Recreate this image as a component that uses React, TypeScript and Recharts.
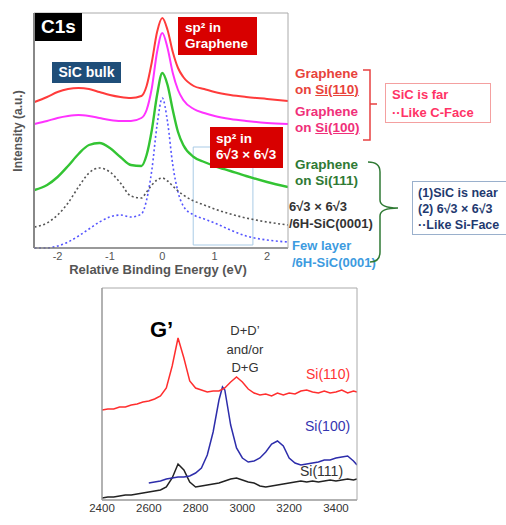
import React from 'react';
import { LineChart, Line, XAxis, YAxis, ReferenceArea } from 'recharts';

/* ---------- C1s XPS spectra (top panel) ---------- */
const energy = [-2.44, -2.2, -2.0, -1.8, -1.6, -1.4, -1.2, -1.0, -0.8, -0.6, -0.4, -0.3, -0.2, -0.1, 0, 0.1, 0.2, 0.3, 0.4, 0.6, 0.8, 1.0, 1.3, 1.6, 2.0, 2.4];
const onSi110 = [146, 151, 156, 159, 160, 159, 156, 153, 151, 150, 152, 162, 186, 216, 230, 218, 196, 180, 171, 162, 159, 156, 153, 151, 149, 147];
const onSi100 = [124, 127, 130, 132, 133, 132, 130, 128, 127, 127, 130, 138, 160, 196, 215, 200, 175, 158, 148, 139, 135, 132, 129, 127, 125, 124];
const onSi111 = [58, 63, 71, 82, 94, 103, 105, 100, 91, 83, 82, 93, 118, 153, 175, 163, 138, 116, 103, 91, 86, 82, 77, 72, 66, 61];
const sic6r3 = [21, 25, 33, 45, 61, 75, 80, 76, 65, 52, 50, 56, 63, 68, 70, 67, 62, 57, 53, 47, 43, 39, 34, 30, 26, 23];
const fewLayer = [0, 0, 2, 6, 12, 19, 26, 31, 33, 31, 34, 48, 78, 123, 150, 126, 83, 56, 42, 33, 29, 25, 18, 12, 8, 6];
const energyTicks = [-2, -1, 0, 1, 2];
const energyMinor = [-2, -1.5, -1, -0.5, 0, 0.5, 1, 1.5, 2];

/* ---------- Raman spectra (bottom panel) ---------- */
const shift = [2400, 2425, 2450, 2475, 2500, 2525, 2550, 2575, 2600, 2625, 2650, 2675, 2700, 2725, 2750, 2775, 2800, 2825, 2850, 2875, 2900, 2925, 2950, 2975, 3000, 3025, 3050, 3075, 3100, 3125, 3150, 3175, 3200, 3225, 3250, 3275, 3300, 3325, 3350, 3375, 3400, 3425, 3450, 3475, 3490];
const ramanSi110 = [90, 91, 91, 93, 93, 95, 96, 98, 99, 101, 104, 112, 134, 162, 142, 119, 112, 110, 108, 109, 109, 112, 118, 123, 118, 111, 107, 105, 106, 104, 107, 105, 107, 106, 109, 110, 108, 107, 109, 107, 108, 110, 107, 109, 108];
const ramanSi111 = [2, 3, 3, 4, 5, 5, 6, 7, 8, 9, 10, 13, 22, 36, 30, 18, 13, 14, 15, 16, 17, 19, 21, 22, 20, 18, 17, 14, 13, 14, 15, 16, 17, 18, 19, 18, 19, 18, 19, 20, 19, 20, 21, 20, 21];
const shift100 = [2600, 2625, 2650, 2675, 2700, 2725, 2750, 2775, 2800, 2825, 2850, 2875, 2900, 2915, 2925, 2950, 2975, 3000, 3025, 3050, 3075, 3100, 3125, 3150, 3175, 3200, 3225, 3250, 3275, 3300, 3325, 3350, 3375, 3400, 3425, 3450, 3475, 3490];
const ramanSi100 = [17, 18, 19, 21, 22, 23, 23, 24, 27, 32, 45, 68, 100, 113, 110, 75, 52, 42, 38, 39, 42, 48, 56, 59, 54, 42, 37, 35, 36, 37, 38, 40, 40, 42, 43, 44, 39, 35];
const shiftTicks = [2400, 2600, 2800, 3000, 3200, 3400];
const shiftMinor = [2500, 2600, 2700, 2800, 2900, 3000, 3100, 3200, 3300, 3400];
const intensityTicks = [8, 24, 40, 55, 71, 87, 103, 118, 134, 150, 166, 182, 197];

const xpsData = energy.map((e, i) => ({
  e,
  si110: onSi110[i],
  si100: onSi100[i],
  si111: onSi111[i],
  r3: sic6r3[i],
  few: fewLayer[i],
}));
const ramanData = shift.map((s, i) => ({ s, si110: ramanSi110[i], si111: ramanSi111[i] }));
const raman100 = shift100.map((s, i) => ({ s, si100: ramanSi100[i] }));

const FONT = '"Liberation Sans", Arial, sans-serif';

const abs = (left: number, top: number, extra: React.CSSProperties = {}): React.CSSProperties => ({
  position: 'absolute',
  left,
  top,
  fontFamily: FONT,
  whiteSpace: 'nowrap',
  ...extra,
});

export default function App() {
  const eDomain: [number, number] = [-2.45, 2.4];
  const sDomain: [number, number] = [2400, 3490];

  return (
    <div style={{ position: 'absolute', left: 0, top: 0, width: 506, height: 525, background: '#fff', overflow: 'hidden', fontFamily: FONT }}>
      {/* top panel */}
      <div style={{ position: 'absolute', left: 0, top: 0 }}>
        <LineChart width={300} height={280} data={xpsData} margin={{ top: 13, right: 12, left: 34, bottom: 10 }}>
          <ReferenceArea x1={0.59} x2={1.73} y1={3} y2={101} fill="none" stroke="#a9cbe6" strokeWidth={1} />
          <XAxis
            dataKey="e"
            type="number"
            domain={eDomain}
            ticks={energyTicks}
            allowDataOverflow
            height={22}
            tickLine={false}
            tickSize={2}
            tickMargin={2}
            axisLine={{ stroke: '#777', strokeWidth: 1.5 }}
            tick={{ fontSize: 11, fill: '#555', fontFamily: FONT }}
          />
          <XAxis xAxisId="in" type="number" domain={eDomain} ticks={energyMinor} mirror orientation="bottom" tick={false} axisLine={false} tickSize={3} tickLine={{ stroke: '#444' }} />
          <XAxis xAxisId="top" type="number" domain={eDomain} ticks={energyMinor} mirror orientation="top" tick={false} axisLine={{ stroke: '#aaa' }} tickSize={3} tickLine={{ stroke: '#444' }} />
          <YAxis type="number" domain={[0, 235]} mirror tick={false} tickLine={false} axisLine={{ stroke: '#888', strokeWidth: 2 }} />
          <YAxis yAxisId="right" orientation="right" type="number" domain={[0, 235]} mirror tick={false} tickLine={false} axisLine={{ stroke: '#aaa' }} />
          <Line type="monotone" dataKey="few" stroke="#5555ff" strokeWidth={1.6} strokeDasharray="2 2.5" dot={false} isAnimationActive={false} />
          <Line type="monotone" dataKey="r3" stroke="#555" strokeWidth={1.6} strokeDasharray="2 2.5" dot={false} isAnimationActive={false} />
          <Line type="monotone" dataKey="si111" stroke="#33c433" strokeWidth={2.4} dot={false} isAnimationActive={false} />
          <Line type="monotone" dataKey="si100" stroke="#ff33ff" strokeWidth={2} dot={false} isAnimationActive={false} />
          <Line type="monotone" dataKey="si110" stroke="#ff3b3b" strokeWidth={2} dot={false} isAnimationActive={false} />
        </LineChart>
      </div>

      {/* bottom panel */}
      <div style={{ position: 'absolute', left: 0, top: 280 }}>
        <LineChart width={380} height={245} margin={{ top: 8, right: 23, left: 102, bottom: 5 }}>
          <XAxis
            dataKey="s"
            type="number"
            domain={sDomain}
            ticks={shiftTicks}
            allowDataOverflow
            height={20}
            tickLine={false}
            tickSize={3}
            tickMargin={1}
            axisLine={{ stroke: '#999', strokeWidth: 1.5 }}
            tick={{ fontSize: 11.5, fill: '#333', fontFamily: FONT }}
          />
          <XAxis xAxisId="in" type="number" domain={sDomain} ticks={shiftMinor} mirror orientation="bottom" tick={false} axisLine={false} tickSize={3} tickLine={{ stroke: '#888' }} />
          <XAxis xAxisId="top" type="number" domain={sDomain} ticks={shiftMinor} mirror orientation="top" tick={false} axisLine={{ stroke: '#aaa' }} tickSize={3} tickLine={{ stroke: '#888' }} />
          <YAxis type="number" domain={[0, 212]} ticks={intensityTicks} mirror tick={false} tickSize={3} tickLine={{ stroke: '#888' }} axisLine={{ stroke: '#999', strokeWidth: 1.5 }} />
          <YAxis yAxisId="right" orientation="right" type="number" domain={[0, 212]} ticks={intensityTicks} mirror tick={false} tickSize={3} tickLine={{ stroke: '#888' }} axisLine={{ stroke: '#aaa' }} />
          <Line data={ramanData} type="linear" dataKey="si111" stroke="#222" strokeWidth={1.5} dot={false} isAnimationActive={false} />
          <Line data={raman100} type="linear" dataKey="si100" stroke="#2d2dab" strokeWidth={1.5} dot={false} isAnimationActive={false} />
          <Line data={ramanData} type="linear" dataKey="si110" stroke="#ff2e2e" strokeWidth={1.5} dot={false} isAnimationActive={false} />
        </LineChart>
      </div>

      {/* top panel annotations */}
      <div style={abs(35, 13, { width: 47, height: 28, background: '#000', color: '#fff', fontWeight: 700, fontSize: 19, lineHeight: '28px', textAlign: 'center' })}>C1s</div>
      <div style={abs(52, 62, { width: 69, height: 21, background: '#1f4e79', color: '#fff', fontWeight: 700, fontSize: 14, lineHeight: '21px', textAlign: 'center' })}>SiC bulk</div>
      <div style={abs(178, 17, { width: 79, height: 38, background: '#d80000', color: '#fff', fontWeight: 700, fontSize: 13.5, lineHeight: '16px', padding: '3px 0 0 7px', boxSizing: 'border-box' })}>
        sp² in<br />Graphene
      </div>
      <div style={abs(210, 127, { width: 73, height: 41, background: '#d80000', color: '#fff', fontWeight: 700, fontSize: 13.5, lineHeight: '16px', padding: '4px 0 0 6px', boxSizing: 'border-box' })}>
        sp² in<br />6√3 × 6√3
      </div>
      <div style={abs(18, 131, { transform: 'translate(-50%, -50%) rotate(-90deg)', fontWeight: 700, fontSize: 12, color: '#555' })}>Intensity (a.u.)</div>
      <div style={abs(158, 262, { transform: 'translateX(-50%)', fontWeight: 700, fontSize: 13, color: '#555' })}>Relative Binding Energy (eV)</div>

      <div style={abs(295, 66, { fontWeight: 700, fontSize: 13.5, lineHeight: '16px', color: '#e8433b' })}>
        Graphene<br />on <u>Si(110)</u>
      </div>
      <div style={abs(295, 104, { fontWeight: 700, fontSize: 13.5, lineHeight: '16px', color: '#f0307a' })}>
        Graphene<br />on <u>Si(100)</u>
      </div>
      <div style={abs(295, 157, { fontWeight: 700, fontSize: 13.5, lineHeight: '16px', color: '#2f7a34' })}>
        Graphene<br />on Si(111)
      </div>
      <div style={abs(289, 198, { fontWeight: 700, fontSize: 13, lineHeight: '17px', color: '#333' })}>
        6√3 × 6√3<br />/6H-SiC(0001)
      </div>
      <div style={abs(292, 237, { fontWeight: 700, fontSize: 13, lineHeight: '17px', color: '#3d9be0' })}>
        Few layer<br />/6H-SiC(0001)
      </div>

      <div style={abs(385, 83, { width: 106, height: 40, border: '1px solid #f4a0a0', boxSizing: 'border-box', color: '#ff3366', fontWeight: 700, fontSize: 13, lineHeight: '18px', padding: '2px 0 0 6px' })}>
        SiC is far<br />··Like C-Face
      </div>
      <div style={abs(412, 181, { width: 100, height: 54, border: '1px solid #9ab0cc', boxSizing: 'border-box', color: '#1f3a70', fontWeight: 700, fontSize: 12.5, lineHeight: '16px', padding: '3px 0 0 5px' })}>
        (1)SiC is near<br />(2) 6√3 × 6√3<br />··Like Si-Face
      </div>

      <svg width={506} height={525} style={{ position: 'absolute', left: 0, top: 0, pointerEvents: 'none' }}>
        <path d="M 363 70 L 370 70 L 370 140 L 363 140 M 370 104 L 377 104" fill="none" stroke="#e84040" strokeWidth={1.5} />
        <path d="M 368 162 Q 380 162 380 172 L 380 200 Q 380 208 398 208 Q 380 208 380 216 L 380 252 Q 380 262 370 262" fill="none" stroke="#2f7a34" strokeWidth={1.5} />
      </svg>

      {/* bottom panel annotations */}
      <div style={abs(150, 317, { fontWeight: 700, fontSize: 22, color: '#000' })}>G’</div>
      <div style={abs(245, 322, { transform: 'translateX(-50%)', fontSize: 13, lineHeight: '18.5px', color: '#333', textAlign: 'center' })}>
        D+D’<br />and/or<br />D+G
      </div>
      <div style={abs(306, 366, { fontSize: 14, color: '#ff3333' })}>Si(110)</div>
      <div style={abs(305, 418, { fontSize: 14, color: '#3535b0' })}>Si(100)</div>
      <div style={abs(300, 463, { fontSize: 14, color: '#333' })}>Si(111)</div>
    </div>
  );
}
